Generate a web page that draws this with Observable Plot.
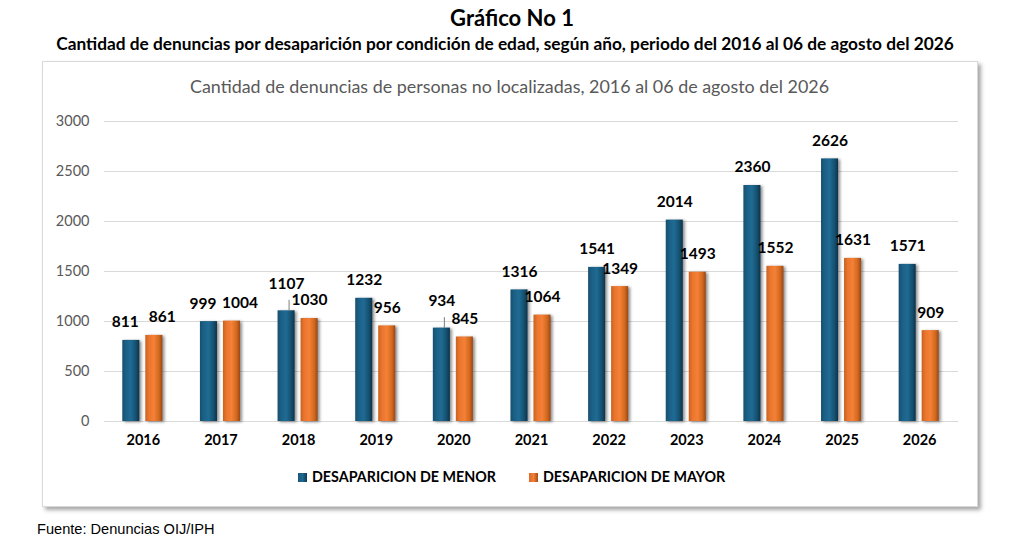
<!DOCTYPE html>
<html>
<head>
<meta charset="utf-8">
<script src="https://cdn.jsdelivr.net/npm/d3@7"></script>
<script src="https://cdn.jsdelivr.net/npm/@observablehq/plot@0.6"></script>
<style>
  body { margin: 0; background: #fff; font-family: Lato, "Open Sans", sans-serif; }
  #page { position: relative; width: 1024px; height: 542px; overflow: hidden; }
  #titulo { position: absolute; top: 4px; left: 0; width: 1024px; text-align: center; font-weight: bold; font-size: 22px; color: #000; }
  #subtitulo { position: absolute; top: 33px; left: 0; width: 1010px; text-align: center; font-weight: bold; font-size: 17.3px; color: #000; white-space: nowrap; }
  #caja { position: absolute; left: 42px; top: 61px; width: 934px; height: 444px; border: 1px solid #d9d9d9; background: #fff;
          box-shadow: 3px 3px 4px rgba(0,0,0,0.35); }
  #titulo2 { position: absolute; top: 75px; left: 0; width: 1019px; text-align: center; font-size: 17.9px; color: #595959; }
  #chart { position: absolute; left: 0; top: 100px; }
  #leyenda { position: absolute; top: 468px; left: 298px; font-weight: bold; font-size: 14.3px; color: #000; display: flex; gap: 33px; }
  #leyenda span.sw { display: inline-block; width: 9px; height: 9px; margin-right: 5px; vertical-align: 0px; }
  #fuente { position: absolute; top: 521px; left: 37px; font-family: "Liberation Sans", Arial, sans-serif; font-size: 14.6px; color: #000; }
  g[aria-label="bar"] rect { filter: drop-shadow(2px 1px 1.5px rgba(0,0,0,0.45)); }
</style>
</head>
<body>
<div id="page">
  <div id="titulo">Gráfico No 1</div>
  <div id="subtitulo">Cantidad de denuncias por desaparición por condición de edad, según año, periodo del 2016 al 06 de agosto del 2026</div>
  <div id="caja"></div>
  <div id="titulo2">Cantidad de denuncias de personas no localizadas, 2016 al 06 de agosto del 2026</div>
  <div id="chart"></div>
  <div id="leyenda">
    <div><span class="sw" style="background:linear-gradient(90deg,#1a5677,#1d6a92,#0e3a55)"></span>DESAPARICION DE MENOR</div>
    <div><span class="sw" style="background:linear-gradient(90deg,#d86a2a,#f57f36,#a64c15)"></span>DESAPARICION DE MAYOR</div>
  </div>
  <div id="fuente">Fuente: Denuncias OIJ/IPH</div>
</div>
<script>
const years = [2016, 2017, 2018, 2019, 2020, 2021, 2022, 2023, 2024, 2025, 2026]
const menor = [811, 999, 1107, 1232, 934, 1316, 1541, 2014, 2360, 2626, 1571]
const mayor = [861, 1004, 1030, 956, 845, 1064, 1349, 1493, 1552, 1631, 909]
const yTicks = [0, 500, 1000, 1500, 2000, 2500, 3000]

const dMenor = years.map((y, i) => ({ year: String(y), value: menor[i] }))
const dMayor = years.map((y, i) => ({ year: String(y), value: mayor[i] }))
// etiquetas que van levantadas con linea guia
const levantadas = ["2018", "2020"]
// años donde las etiquetas se separan para no chocar
const separadas = ["2016", "2017"]

// degradados para el efecto de bisel
const defs = () => {
  const g = d3.create("svg:defs")
  const grad = (id, stops) => {
    const lg = g.append("linearGradient").attr("id", id).attr("x1", 0).attr("x2", 1).attr("y1", 0).attr("y2", 0)
    stops.forEach(([o, c]) => lg.append("stop").attr("offset", o).attr("stop-color", c))
  }
  grad("gAzul", [[0, "#174f6e"], [0.2, "#1b5f85"], [0.5, "#1f6b94"], [0.8, "#15506f"], [1, "#0c324a"]])
  grad("gNaranja", [[0, "#c9611f"], [0.2, "#e8742e"], [0.5, "#f58137"], [0.8, "#d2691f"], [1, "#9c4612"]])
  return g.node()
}

const labelStyle = { fontWeight: "bold", fontSize: 15.5, fill: "#000" }
const txt = d => String(d.value)

let chart = Plot.plot({
  width: 1024,
  height: 351,
  marginLeft: 104,
  marginRight: 66,
  marginTop: 21,
  marginBottom: 30,
  style: { background: "transparent", fontFamily: "Lato, 'Open Sans', sans-serif" },
  x: { domain: years.map(String), padding: 0, round: false, label: null, tickSize: 0, tickPadding: 13 },
  y: { domain: [0, 3000], ticks: yTicks, label: null, tickSize: 0, tickPadding: 15, tickFormat: d => String(d) },
  marks: [
    defs,
    Plot.ruleY(yTicks, { stroke: "#d9d9d9", strokeWidth: 1.2 }),
    Plot.axisY({ ticks: yTicks, tickSize: 0, tickPadding: 15, label: null, fontSize: 14.5, fill: "#595959", tickFormat: d => String(d) }),
    Plot.axisX({ tickSize: 0, tickPadding: 13, label: null, fontSize: 14.5, fontWeight: "bold", fill: "#000" }),
    Plot.barY(dMenor, { x: "year", y: "value", fill: "url(#gAzul)", insetLeft: 18.3, insetRight: 42.3 }),
    Plot.barY(dMayor, { x: "year", y: "value", fill: "url(#gNaranja)", insetLeft: 41.3, insetRight: 19.3 }),
    // lineas guia de etiquetas levantadas
    Plot.tickY(dMenor.filter(d => levantadas.includes(d.year)), { x: "year", y: "value", stroke: "#7f7f7f", strokeWidth: 1, dx: -9, insetLeft: 38.8, insetRight: 38.8 }),
    Plot.text(dMenor.filter(d => !levantadas.includes(d.year) && !separadas.includes(d.year)), { x: "year", y: "value", text: txt, dx: -12, dy: -18, ...labelStyle }),
    Plot.text(dMenor.filter(d => separadas.includes(d.year)), { x: "year", y: "value", text: txt, dx: -18, dy: -18, ...labelStyle }),
    Plot.text(dMenor.filter(d => levantadas.includes(d.year)), { x: "year", y: "value", text: txt, dx: -12, dy: -27, ...labelStyle }),
    Plot.text(dMayor.filter(d => !separadas.includes(d.year)), { x: "year", y: "value", text: txt, dx: 11, dy: -18, ...labelStyle }),
    Plot.text(dMayor.filter(d => separadas.includes(d.year)), { x: "year", y: "value", text: txt, dx: 19, dy: -18, ...labelStyle })
  ]
})
d3.select('#chart').append(() => chart)

// convierte la marca tickY en lineas verticales cortas (guia de etiqueta)
d3.select(chart).selectAll('g[aria-label="tick"] line').each(function () {
  const l = d3.select(this)
  const x = (+l.attr("x1") + +l.attr("x2")) / 2
  const y = +l.attr("y1")
  l.attr("x1", x).attr("x2", x).attr("y1", y).attr("y2", y - 11)
})
</script>
</body>
</html>
